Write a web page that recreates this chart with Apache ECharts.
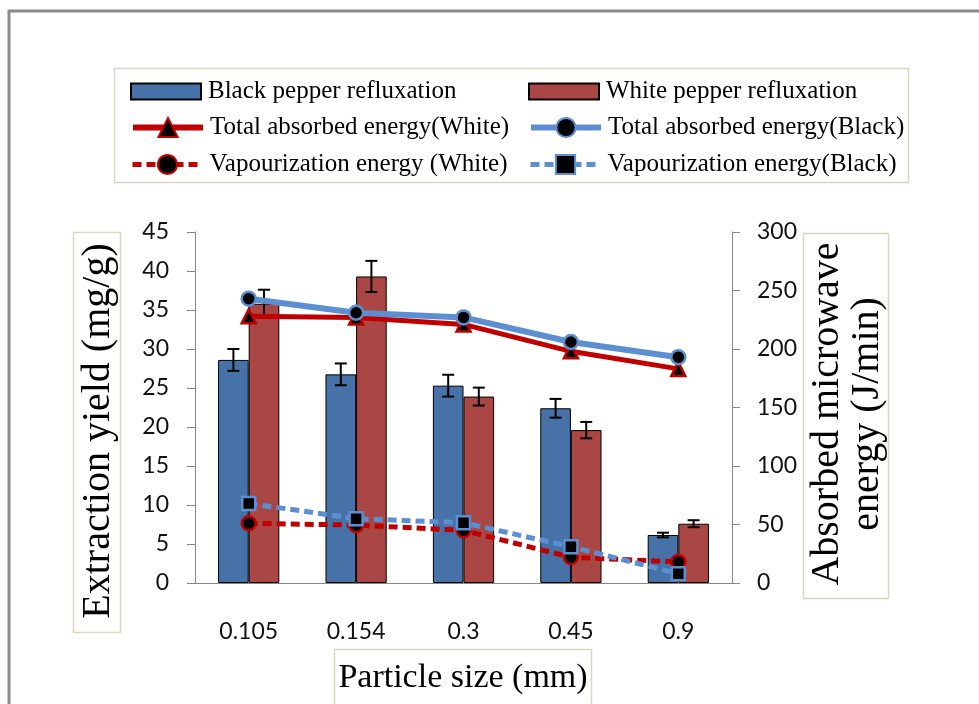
<!DOCTYPE html>
<html>
<head>
<meta charset="utf-8">
<script src="https://cdn.jsdelivr.net/npm/echarts@6/dist/echarts.min.js"></script>
<style>
html,body{margin:0;padding:0;background:#fff;}
#chart{width:979px;height:704px;}
</style>
</head>
<body>
<div id="chart"></div>
<script>
// ---- data ----
const categories = ['0.105', '0.154', '0.3', '0.45', '0.9'];
const blackYield = [28.6, 26.75, 25.3, 22.4, 6.15];
const blackYieldErr = [1.4, 1.4, 1.4, 1.2, 0.3];
const whiteYield = [35.8, 39.3, 23.9, 19.6, 7.6];
const whiteYieldErr = [1.8, 2.0, 1.15, 1.05, 0.45];
const totalWhite = [228, 227, 221, 198, 183];
const totalBlack = [243, 231, 227, 206, 193];
const vapWhite = [51, 49.5, 45, 22, 18];
const vapBlack = [68, 55, 51.5, 31, 8];
const leftTicks = [0, 45, 5];
const rightTicks = [0, 300, 50];

const names = {
  bB: 'Black pepper refluxation',
  bW: 'White pepper refluxation',
  tW: 'Total absorbed energy(White)',
  tB: 'Total absorbed energy(Black)',
  vW: 'Vapourization energy (White)',
  vB: 'Vapourization energy(Black)'
};

const BLUE = '#4672a8', RED = '#aa4643', LBLUE = '#5b8fd2', DRED = '#c00000';
const GAP = 0.43;
const axisColor = '#868686';
const labelFont = {fontFamily: 'Lato', fontSize: 23, color: '#111'};

function errSeries(vals, errs, side) {
  return {
    type: 'custom',
    xAxisIndex: 0, yAxisIndex: 0, z: 5, silent: true,
    data: vals.map((v, i) => [i, v, errs[i]]),
    renderItem: function (params, api) {
      const i = api.value(0), v = api.value(1), e = api.value(2);
      const band = api.size([1, 0])[0];
      const barW = band * (1 - GAP) / 2;
      const off = side * barW / 2;
      const top = api.coord([i, v + e]);
      const bot = api.coord([i, v - e]);
      const x = top[0] + off;
      const cap = 6;
      const st = {stroke: '#000', lineWidth: 2};
      return {type: 'group', children: [
        {type: 'line', shape: {x1: x, y1: top[1], x2: x, y2: bot[1]}, style: st},
        {type: 'line', shape: {x1: x - cap, y1: top[1], x2: x + cap, y2: top[1]}, style: st},
        {type: 'line', shape: {x1: x - cap, y1: bot[1], x2: x + cap, y2: bot[1]}, style: st}
      ]};
    }
  };
}

function legendAt(name, left, top, w, h, extra) {
  return Object.assign({
    data: [name], left: left, top: top, padding: 0,
    itemWidth: w, itemHeight: h, itemGap: 0,
    textStyle: {fontFamily: 'Liberation Serif', fontSize: 25, color: '#000', padding: [0, 0, 0, 2]},
    selectedMode: false
  }, extra || {});
}
const barLegend = {icon: 'rect'};
const lineLegend = {lineStyle: {width: 6}};
const dashLegend = {lineStyle: {width: 5}};

const chart = echarts.init(document.getElementById('chart'));
chart.setOption({
  animation: false,
  backgroundColor: '#fff',
  grid: {left: 195, right: 247, top: 232, bottom: 121, outerBoundsMode: 'none'},
  legend: [
    legendAt(names.bB, 130, 79, 70, 16, barLegend),
    legendAt(names.bW, 528, 79, 70, 16, barLegend),
    legendAt(names.tW, 130, 115, 70, 24, lineLegend),
    legendAt(names.tB, 528, 115, 70, 24, lineLegend),
    legendAt(names.vW, 130, 152, 70, 24, dashLegend),
    legendAt(names.vB, 528, 152, 70, 24, dashLegend)
  ],
  xAxis: {
    type: 'category', data: categories,
    axisLine: {lineStyle: {color: axisColor, width: 1}},
    axisTick: {length: 11, lineStyle: {color: axisColor}},
    axisLabel: Object.assign({margin: 37}, labelFont)
  },
  yAxis: [
    {
      type: 'value', min: leftTicks[0], max: leftTicks[1], interval: leftTicks[2],
      axisLine: {show: true, lineStyle: {color: axisColor}},
      axisTick: {show: true, length: 8, lineStyle: {color: axisColor}},
      splitLine: {show: false},
      axisLabel: Object.assign({margin: 26}, labelFont)
    },
    {
      type: 'value', min: rightTicks[0], max: rightTicks[1], interval: rightTicks[2],
      position: 'right',
      axisLine: {show: true, lineStyle: {color: axisColor}},
      axisTick: {show: true, length: 8, lineStyle: {color: axisColor}},
      splitLine: {show: false},
      axisLabel: Object.assign({margin: 25}, labelFont)
    }
  ],
  series: [
    {name: names.bB, type: 'bar', data: blackYield, barCategoryGap: (GAP * 100) + '%', barGap: '0%',
     itemStyle: {color: BLUE, borderColor: '#000', borderWidth: 1}, z: 2},
    {name: names.bW, type: 'bar', data: whiteYield, barCategoryGap: (GAP * 100) + '%', barGap: '0%',
     itemStyle: {color: RED, borderColor: '#000', borderWidth: 1}, z: 2},
    errSeries(blackYield, blackYieldErr, -1),
    errSeries(whiteYield, whiteYieldErr, 1),
    {name: names.tW, type: 'line', yAxisIndex: 1, data: totalWhite, z: 6,
     symbol: 'triangle', symbolSize: 14,
     lineStyle: {color: DRED, width: 5},
     itemStyle: {color: '#000', borderColor: DRED, borderWidth: 2.5}},
    {name: names.tB, type: 'line', yAxisIndex: 1, data: totalBlack, z: 7,
     symbol: 'circle', symbolSize: 14,
     lineStyle: {color: LBLUE, width: 6},
     itemStyle: {color: '#000', borderColor: LBLUE, borderWidth: 2.5}},
    {name: names.vW, type: 'line', yAxisIndex: 1, data: vapWhite, z: 6,
     symbol: 'circle', symbolSize: 14,
     lineStyle: {color: DRED, width: 5, type: [9, 5]},
     itemStyle: {color: '#000', borderColor: DRED, borderWidth: 2.5}},
    {name: names.vB, type: 'line', yAxisIndex: 1, data: vapBlack, z: 7,
     symbol: 'rect', symbolSize: 13,
     lineStyle: {color: LBLUE, width: 5, type: [9, 5]},
     itemStyle: {color: '#000', borderColor: LBLUE, borderWidth: 2.5}}
  ],
  graphic: [
    {type: 'rect', shape: {x: 9, y: 11, width: 1000, height: 1000}, silent: true,
     style: {fill: 'none', stroke: '#8c8c8c', lineWidth: 3}},
    {type: 'rect', shape: {x: 114.5, y: 68.5, width: 794, height: 114}, silent: true, z: -1,
     style: {fill: '#fff', stroke: '#d9d6c3', lineWidth: 1.5}},
    {type: 'rect', shape: {x: 73.5, y: 232.5, width: 47, height: 400}, silent: true,
     style: {fill: '#fff', stroke: '#d9d6c3', lineWidth: 1.5}},
    {type: 'text', x: 98, y: 431, rotation: Math.PI / 2, silent: true,
     style: {text: 'Extraction yield (mg/g)', fontFamily: 'Liberation Serif', fontSize: 40,
             fill: '#000', textAlign: 'center', textVerticalAlign: 'middle'}},
    {type: 'rect', shape: {x: 803.5, y: 233.5, width: 85, height: 365}, silent: true,
     style: {fill: '#fff', stroke: '#d9d6c3', lineWidth: 1.5}},
    {type: 'text', x: 847, y: 414, rotation: Math.PI / 2, silent: true,
     style: {text: 'Absorbed microwave\nenergy (J/min)', fontFamily: 'Liberation Serif', fontSize: 40,
             lineHeight: 40, fill: '#000', align: 'center', textAlign: 'center', textVerticalAlign: 'middle'}},
    {type: 'rect', shape: {x: 334.5, y: 649.5, width: 257, height: 80}, silent: true,
     style: {fill: '#fff', stroke: '#d9d6c3', lineWidth: 1.5}},
    {type: 'text', x: 463, y: 678, silent: true,
     style: {text: 'Particle size (mm)', fontFamily: 'Liberation Serif', fontSize: 34,
             fill: '#000', textAlign: 'center', textVerticalAlign: 'middle'}}
  ]
});
</script>
</body>
</html>
